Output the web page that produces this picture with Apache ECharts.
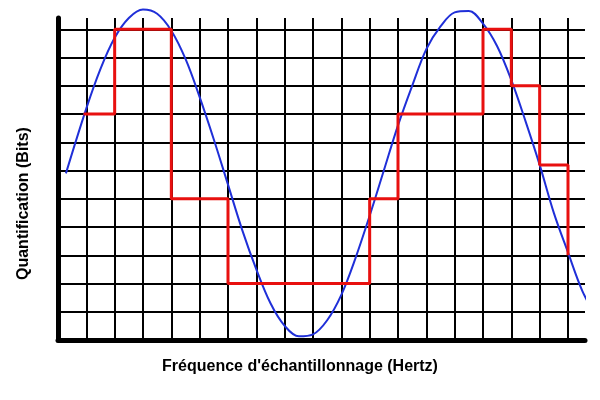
<!DOCTYPE html>
<html>
<head>
<meta charset="UTF-8">
<script src="https://cdn.jsdelivr.net/npm/echarts@6/dist/echarts.min.js"></script>
<style>html,body{margin:0;background:#fff}#c{width:600px;height:400px}</style>
</head>
<body>
<div id="c"></div>
<script>
// signal (x in grid units, y in quantisation levels)
var sineX = [0.28, 1, 1.5, 2, 2.5, 3, 3.5, 4, 4.5, 5, 5.5, 6, 6.5, 7, 7.5, 8, 8.5, 9, 9.5, 10, 10.5, 11, 11.5, 12, 12.5, 13, 13.5, 14, 14.5, 15, 15.5, 16, 16.5, 17, 17.5, 18, 18.5, 19, 19.15];
var sineY = [5.9, 8.2, 9.6, 10.7, 11.4, 11.7, 11.55, 10.95, 9.95, 8.6, 7.1, 5.5, 3.9, 2.5, 1.3, 0.5, 0.13, 0.2, 0.7, 1.6, 2.9, 4.4, 6.0, 7.6, 9.0, 10.3, 11.1, 11.6, 11.65, 11.2, 10.4, 9.2, 7.75, 6.2, 4.5, 3.1, 1.75, 0.8, 0.56];
// quantised steps
var stepX = [0.9, 2, 2, 4, 4, 6, 6, 11, 11, 12, 12, 15, 15, 16, 16, 17, 17, 18, 18];
var stepY = [8, 8, 11, 11, 5, 5, 2, 2, 5, 5, 8, 8, 11, 11, 9, 9, 6.2, 6.2, 3];

var zip = function (a, b) { return a.map(function (v, i) { return [v, b[i]]; }); };

var chart = echarts.init(document.getElementById('c'));
chart.setOption({
    animation: false,
    grid: {left: 58, right: 15, top: 18, bottom: 60},
    xAxis: {
        type: 'value', min: 0, max: 18.6, interval: 1,
        axisLine: {lineStyle: {color: '#000', width: 5}},
        axisTick: {show: false}, axisLabel: {show: false},
        splitLine: {showMaxLine: false, lineStyle: {color: '#000', width: 2}}
    },
    yAxis: {
        type: 'value', min: 0, max: 11.4, interval: 1,
        axisLine: {show: true, lineStyle: {color: '#000', width: 5}},
        axisTick: {show: false}, axisLabel: {show: false},
        splitLine: {showMaxLine: false, lineStyle: {color: '#000', width: 2}}
    },
    graphic: [
        {type: 'text', left: 'center', top: 359, style: {text: "Fréquence d'échantillonnage (Hertz)", font: 'bold 16px Arial, "Liberation Sans"', fill: '#000'}},
        {type: 'text', x: 16, y: 280, rotation: Math.PI / 2, style: {text: 'Quantification (Bits)', font: 'bold 16px Arial, "Liberation Sans"', fill: '#000'}}
    ],
    series: [
        {type: 'line', data: zip(sineX, sineY), smooth: 0.35, symbol: 'none', clip: false,
         lineStyle: {color: '#1f2fd8', width: 2}},
        {type: 'line', data: zip(stepX, stepY), symbol: 'none', clip: false,
         lineStyle: {color: '#e8100f', width: 3}}
    ]
});
</script>
</body>
</html>
